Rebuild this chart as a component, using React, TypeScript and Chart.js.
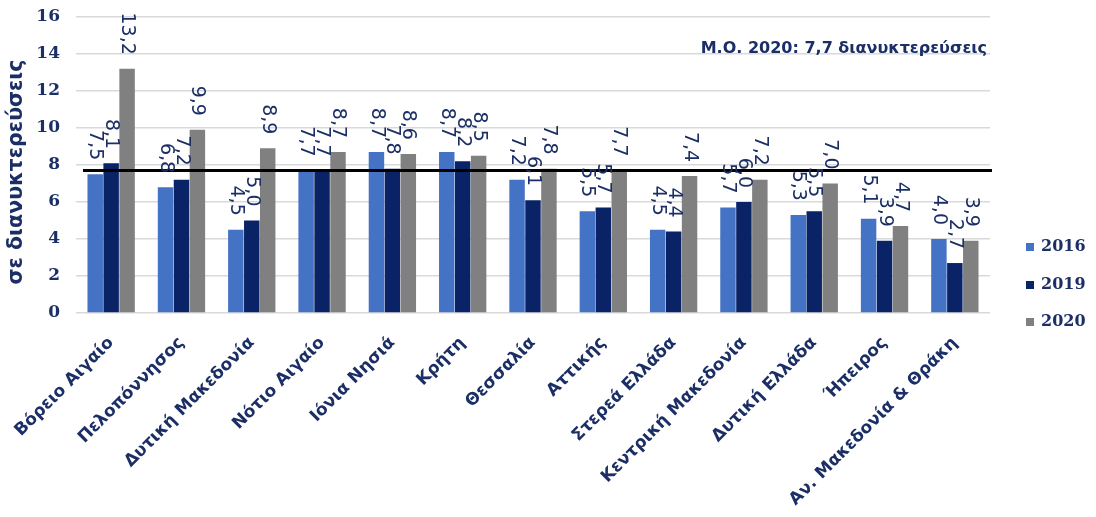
import React, { useEffect, useRef } from "react";
import { Chart, registerables } from "chart.js";

Chart.register(...registerables);

const categories = [
  "Βόρειο Αιγαίο",
  "Πελοπόννησος",
  "Δυτική Μακεδονία",
  "Νότιο Αιγαίο",
  "Ιόνια Νησιά",
  "Κρήτη",
  "Θεσσαλία",
  "Αττικής",
  "Στερεά Ελλάδα",
  "Κεντρική Μακεδονία",
  "Δυτική Ελλάδα",
  "Ήπειρος",
  "Αν. Μακεδονία & Θράκη",
];

const values2016 = [7.5, 6.8, 4.5, 7.7, 8.7, 8.7, 7.2, 5.5, 4.5, 5.7, 5.3, 5.1, 4.0];
const values2019 = [8.1, 7.2, 5.0, 7.7, 7.8, 8.2, 6.1, 5.7, 4.4, 6.0, 5.5, 3.9, 2.7];
const values2020 = [13.2, 9.9, 8.9, 8.7, 8.6, 8.5, 7.8, 7.7, 7.4, 7.2, 7.0, 4.7, 3.9];
const seriesLabels = ["2016", "2019", "2020"];
const yTicks = [0, 2, 4, 6, 8, 10, 12, 14, 16];
const average2020 = 7.7;
const averageText = "Μ.Ο. 2020: 7,7 διανυκτερεύσεις";
const yTitle = "σε διανυκτερεύσεις";

const COLORS = ["#4472C4", "#0A2266", "#808080"];
const NAVY = "#1B2F66";

const fmt = (v: number) => v.toFixed(1).replace(".", ",");

const overlayPlugin = {
  id: "overlay",
  afterDatasetsDraw(chart: any) {
    const ctx = chart.ctx;
    const y = chart.scales.y;
    const area = chart.chartArea;
    // average line
    const ay = y.getPixelForValue(average2020);
    ctx.save();
    ctx.strokeStyle = "#000000";
    ctx.lineWidth = 3;
    ctx.beginPath();
    ctx.moveTo(area.left + 7, ay);
    ctx.lineTo(area.right + 2, ay);
    ctx.stroke();
    ctx.restore();

    // data labels
    chart.data.datasets.forEach((ds: any, di: number) => {
      const meta = chart.getDatasetMeta(di);
      meta.data.forEach((bar: any, i: number) => {
        const v = ds.data[i];
        ctx.save();
        ctx.translate(bar.x, bar.y - 14);
        ctx.rotate(Math.PI / 2);
        ctx.font = "19px 'DejaVu Sans'";
        ctx.fillStyle = NAVY;
        ctx.textAlign = "right";
        ctx.textBaseline = "middle";
        ctx.fillText(fmt(v), 0, 0);
        ctx.restore();
      });
    });

    // average annotation
    ctx.save();
    ctx.font = "bold 16px 'DejaVu Sans'";
    ctx.fillStyle = NAVY;
    ctx.textAlign = "right";
    ctx.textBaseline = "middle";
    ctx.fillText(averageText, 987, 49);
    ctx.restore();

    // y title
    ctx.save();
    ctx.translate(17, 172);
    ctx.rotate(-Math.PI / 2);
    ctx.font = "bold 20.5px 'DejaVu Sans'";
    ctx.fillStyle = NAVY;
    ctx.textAlign = "center";
    ctx.textBaseline = "middle";
    ctx.fillText(yTitle, 0, 0);
    ctx.restore();

    // legend
    const ly = [247, 285, 322];
    seriesLabels.forEach((lab, i) => {
      ctx.save();
      ctx.fillStyle = COLORS[i];
      ctx.fillRect(1026, ly[i] - 4, 8, 8);
      ctx.font = "bold 16px 'DejaVu Serif'";
      ctx.fillStyle = NAVY;
      ctx.textAlign = "left";
      ctx.textBaseline = "middle";
      ctx.fillText(lab, 1041, ly[i]);
      ctx.restore();
    });
  },
};

export default function App() {
  const ref = useRef<HTMLCanvasElement | null>(null);
  useEffect(() => {
    if (!ref.current) return;
    const chart = new Chart(ref.current, {
      type: "bar",
      data: {
        labels: categories,
        datasets: [values2016, values2019, values2020].map((d, i) => ({
          label: seriesLabels[i],
          data: d,
          backgroundColor: COLORS[i],
          borderColor: COLORS[i],
          borderWidth: 0,
          barPercentage: 0.97,
          categoryPercentage: 0.68,
        })),
      },
      options: {
        animation: false,
        responsive: true,
        maintainAspectRatio: false,
        layout: { padding: { top: 17, right: 106, left: 0, bottom: 0 } },
        plugins: {
          legend: { display: false },
          tooltip: { enabled: false },
          title: { display: false },
        },
        scales: {
          x: {
            grid: { display: false },
            border: { display: false },
            ticks: {
              autoSkip: false,
              maxRotation: 45,
              minRotation: 45,
              padding: 12,
              color: NAVY,
              font: { family: "'DejaVu Sans'", weight: "bold", size: 17 },
            },
            afterFit(scale: any) {
              scale.height = 204;
            },
          },
          y: {
            min: 0,
            max: 16,
            afterBuildTicks(scale: any) {
              scale.ticks = yTicks.map((v) => ({ value: v }));
            },
            grid: {
              color: "#D9D9D9",
              lineWidth: 1.5,
              drawTicks: true,
              tickLength: 12,
              tickColor: "rgba(0,0,0,0)",
            },
            border: { display: false },
            ticks: {
              padding: 4,
              color: NAVY,
              font: { family: "'DejaVu Serif'", weight: "bold", size: 17, lineHeight: 1 },
            },
            afterFit(scale: any) {
              scale.width = 76;
            },
          },
        },
      },
      plugins: [overlayPlugin],
    });
    return () => chart.destroy();
  }, []);
  return (
    <div style={{ position: "absolute", left: 0, top: 0, width: 1096, height: 517, background: "#fff" }}>
      <canvas ref={ref} />
    </div>
  );
}
